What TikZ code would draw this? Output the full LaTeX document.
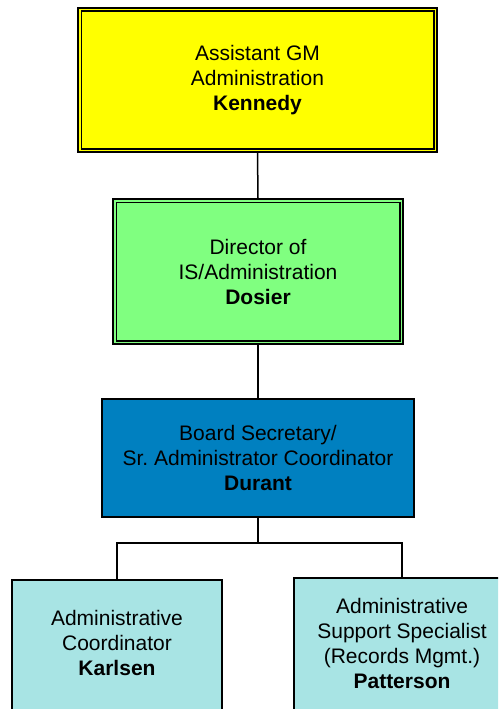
\documentclass[tikz,border=0pt]{standalone}
\usepackage{fontspec}
\setmainfont{Liberation Sans}
\frenchspacing
\definecolor{gmyellow}{RGB}{255,255,0}
\definecolor{dirgreen}{RGB}{128,255,128}
\definecolor{secblue}{RGB}{0,128,192}
\definecolor{staffcyan}{RGB}{168,228,228}
\begin{document}
\begin{tikzpicture}[x=1pt,y=1pt,
  orgbox/.style={draw=black, line width=1.7pt, inner sep=0pt, align=center,
    font=\fontsize{21}{25}\selectfont},
  innerline/.style={draw=black, line width=1.3pt},
  label/.style={align=center, inner sep=0pt, font=\fontsize{21}{25}\selectfont},
  link/.style={draw=black, line width=1.5pt}]
\useasboundingbox (0,0) rectangle (498,-709);
\clip (0,0) rectangle (498,-709);

% top level
\node[orgbox, fill=gmyellow, minimum width=359, minimum height=144] (gm) at (257.5,-80)
  {Assistant GM\\Administration\\\textbf{Kennedy}};
\draw[innerline] ([shift={(4,-4)}]gm.north west) rectangle ([shift={(-4,4)}]gm.south east);

% director
\node[orgbox, fill=dirgreen, minimum width=290, minimum height=145] (dir) at (258,-271.5)
  {Director of\\IS/Administration\\\textbf{Dosier}};
\draw[innerline] ([shift={(4,-4)}]dir.north west) rectangle ([shift={(-4,4)}]dir.south east);

% board secretary
\node[orgbox, fill=secblue, minimum width=312, minimum height=118] (sec) at (258,-458)
  {Board Secretary/\\Sr. Administrator Coordinator\\\textbf{Durant}};

% staff boxes (running past the lower and right edges)
\node[orgbox, fill=staffcyan, minimum width=210, minimum height=200, anchor=north] (kar) at (117,-579) {};
\node[label] (kartext) at (117,-643) {Administrative\\Coordinator\\\textbf{Karlsen}};
\node[orgbox, fill=staffcyan, minimum width=216, minimum height=200, anchor=north] (pat) at (402,-577) {};
\node[label] (pattext) at (402,-643.5) {Administrative\\Support Specialist\\(Records Mgmt.)\\\textbf{Patterson}};

% connectors
\coordinate (split) at (258,-543);
\draw[link] (gm.south) -- (dir.north);
\draw[link] (dir.south) -- (sec.north);
\draw[link] (sec.south) -- (split);
\draw[link] (kar.north) |- (split) -| (pat.north);
\end{tikzpicture}
\end{document}
